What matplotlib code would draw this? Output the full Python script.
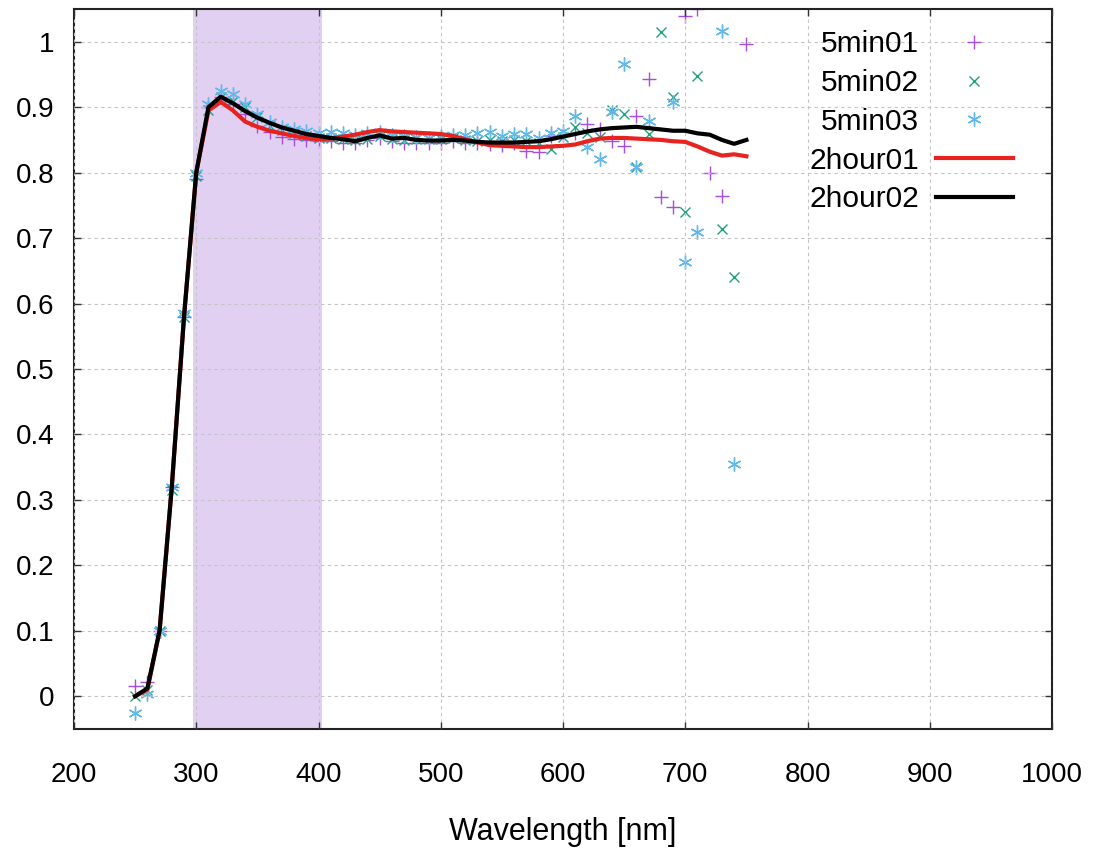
import numpy as np
import matplotlib
matplotlib.use("Agg")
import matplotlib.pyplot as plt

plt.rcParams['font.family'] = ['Liberation Sans', 'DejaVu Sans']

# Wavelength grid shared by all series [nm]
wavelength = np.arange(250, 751, 10)

nan = np.nan
# Short (5 min) measurements
min5_01 = [0.015, 0.022, 0.100, 0.320, 0.580, 0.790, 0.900, 0.915, 0.905, 0.890,
           0.872, 0.862, 0.855, 0.852, 0.850, 0.848, 0.848, 0.845, 0.846, 0.850,
           0.853, 0.848, 0.845, 0.845, 0.845, 0.846, 0.848, 0.846, 0.845, 0.843,
           0.842, 0.845, 0.833, 0.832, 0.856, 0.858, 0.860, 0.875, 0.867, 0.849,
           0.841, 0.886, 0.943, 0.763, 0.748, 1.040, 1.050, 0.800, 0.765, 1.080,
           0.997]
min5_02 = [0.000, 0.010, 0.100, 0.315, 0.580, 0.795, 0.895, 0.915, 0.910, 0.900,
           0.885, 0.872, 0.865, 0.860, 0.856, 0.853, 0.853, 0.852, 0.850, 0.852,
           0.856, 0.852, 0.850, 0.851, 0.851, 0.852, 0.853, 0.850, 0.848, 0.850,
           0.848, 0.850, 0.848, 0.845, 0.836, 0.855, 0.870, 0.860, 0.855, 0.895,
           0.889, 0.809, 0.859, 1.015, 0.915, 0.740, 0.948, nan, 0.714, 0.640,
           nan]
min5_03 = [-0.025, 0.003, 0.100, 0.320, 0.585, 0.800, 0.905, 0.925, 0.920, 0.905,
           0.890, 0.878, 0.870, 0.866, 0.864, 0.860, 0.862, 0.860, 0.858, 0.860,
           0.862, 0.858, 0.856, 0.855, 0.853, 0.856, 0.857, 0.858, 0.860, 0.862,
           0.856, 0.859, 0.859, 0.853, 0.860, 0.864, 0.887, 0.839, 0.821, 0.893,
           0.966, 0.809, 0.879, nan, 0.908, 0.663, 0.709, nan, 1.017, 0.355,
           nan]
# Long (2 hour) measurements
hour2_01 = [0.000, 0.010, 0.100, 0.320, 0.580, 0.800, 0.895, 0.908, 0.895, 0.878,
            0.870, 0.864, 0.860, 0.856, 0.853, 0.851, 0.852, 0.855, 0.858, 0.862,
            0.865, 0.863, 0.862, 0.861, 0.860, 0.859, 0.856, 0.851, 0.846, 0.842,
            0.841, 0.840, 0.839, 0.839, 0.840, 0.841, 0.843, 0.848, 0.852, 0.853,
            0.853, 0.852, 0.851, 0.850, 0.848, 0.847, 0.840, 0.832, 0.826, 0.828,
            0.825]
hour2_02 = [0.000, 0.012, 0.100, 0.320, 0.580, 0.800, 0.900, 0.916, 0.906, 0.894,
            0.884, 0.876, 0.869, 0.864, 0.859, 0.856, 0.853, 0.851, 0.848, 0.853,
            0.857, 0.852, 0.853, 0.850, 0.849, 0.849, 0.850, 0.849, 0.847, 0.846,
            0.846, 0.846, 0.847, 0.848, 0.851, 0.855, 0.859, 0.863, 0.866, 0.868,
            0.869, 0.870, 0.868, 0.866, 0.864, 0.864, 0.860, 0.858, 0.850, 0.844,
            0.850]

# UV band highlighted in the background [nm]
band = (297, 403)

x_ticks = np.arange(200, 1001, 100)
y_ticks = np.round(np.arange(0, 1.01, 0.1), 1)

fig = plt.figure(figsize=(10.93, 8.5), dpi=100)
ax = fig.add_axes([0.0677, 0.1424, 0.8948, 0.847])

ax.axvspan(*band, color='#e2d0f3', zorder=0.2, lw=0)

ms = 10
ax.plot(wavelength, min5_01, ls='none', marker='+', ms=ms, mew=1.0,
        color='#a64ce0', label='5min01', zorder=2)
ax.plot(wavelength, min5_02, ls='none', marker='x', ms=ms * 0.75, mew=1.0,
        color='#1fa37c', label='5min02', zorder=2)
ax.plot(wavelength, min5_03, ls='none', marker=(6, 2, 0), ms=ms, mew=1.0,
        color='#62b8ea', label='5min03', zorder=2)
ax.plot(wavelength, hour2_01, color='#e8221e', lw=3, label='2hour01', zorder=3)
ax.plot(wavelength, hour2_02, color='black', lw=3, label='2hour02', zorder=3)

ax.set_xlim(200, 1000)
ax.set_ylim(-0.05, 1.05)
ax.set_xticks(x_ticks)
ax.set_yticks(y_ticks)
ax.set_yticklabels([f'{v:g}' for v in y_ticks])

ax.grid(True, color='#c4c4c4', ls=(0, (3, 3)), lw=0.8, zorder=0.5)
ax.set_axisbelow(False)
for gl in ax.get_xgridlines() + ax.get_ygridlines():
    gl.set_zorder(0.5)

ax.tick_params(axis='both', direction='in', length=5, width=1,
               top=True, right=True, labelsize=20, color='#333333')
ax.tick_params(axis='x', pad=24)
ax.tick_params(axis='y', pad=14)
for sp in ax.spines.values():
    sp.set_linewidth(1.5)
    sp.set_color('#222222')

ax.set_xlabel('Wavelength [nm]', fontsize=22, labelpad=21)

leg = ax.legend(loc='upper right', bbox_to_anchor=(0.9725, 0.987),
                frameon=False, markerfirst=False, fontsize=21.5,
                handlelength=2.6, handletextpad=0.55, labelspacing=0.36,
                borderaxespad=0)

fig.savefig('out.png', dpi=100)
